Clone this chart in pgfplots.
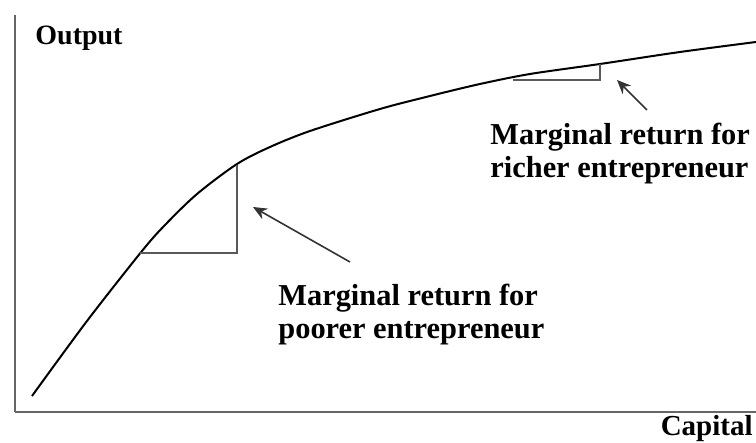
\documentclass[border=0pt]{standalone}
\usepackage{pgfplots}
\pgfplotsset{compat=1.18}
\usepackage{fontspec}
\setmainfont{Liberation Serif}
\usetikzlibrary{arrows.meta}

\begin{document}
\begin{tikzpicture}
\begin{axis}[
  scale only axis, width=370.5pt, height=198.5pt,
  xmin=0, xmax=741, ymin=0, ymax=397,
  axis lines=left,
  x axis line style={-}, y axis line style={-},
  axis line style={draw=gray!80!black, line width=1.1pt},
  xtick=\empty, ytick=\empty,
  clip=false,
]
% production function
\addplot[black, line width=1pt, smooth] coordinates {
  (17,16) (72,91) (127,161) (150,187) (182,218) (222,248) (255,265)
  (295,281) (365,303) (415,316) (465,328) (515,338) (585,348) (665,360) (741,370)};
% slope triangles
\addplot[gray!70!black, line width=0.8pt] coordinates {(125,159) (222,159) (222,247)};
\addplot[gray!70!black, line width=0.8pt] coordinates {(498,332) (585,332) (585,348)};
% arrows
\addplot[black!80, line width=0.8pt, -{Stealth[length=7pt,width=6pt]}] coordinates {(335,150) (238,205)};
\addplot[black!80, line width=0.8pt, -{Stealth[length=7pt,width=6pt]}] coordinates {(632,302) (602,332)};

\node[anchor=base west, font=\fontsize{14}{16}\selectfont\bfseries, inner sep=0pt] at (axis cs:20,367) {Output};
\node[anchor=base east, font=\fontsize{14.5}{16}\selectfont\bfseries, inner sep=0pt] at (axis cs:738,-24) {Capital};
\node[anchor=base west, font=\fontsize{15.2}{16}\selectfont\bfseries, inner sep=0pt] at (axis cs:263,106) {Marginal return for};
\node[anchor=base west, font=\fontsize{15.2}{16}\selectfont\bfseries, inner sep=0pt] at (axis cs:263,73) {poorer entrepreneur};
\node[anchor=base west, font=\fontsize{15.2}{16}\selectfont\bfseries, inner sep=0pt] at (axis cs:475,267) {Marginal return for};
\node[anchor=base west, font=\fontsize{15.2}{16}\selectfont\bfseries, inner sep=0pt] at (axis cs:475,234) {richer entrepreneur};

\coordinate (bl) at (axis cs:-15,-31);
\coordinate (tr) at (axis cs:741,412);
\end{axis}
\pgfresetboundingbox
\path (bl) rectangle (tr);
\end{tikzpicture}
\end{document}
